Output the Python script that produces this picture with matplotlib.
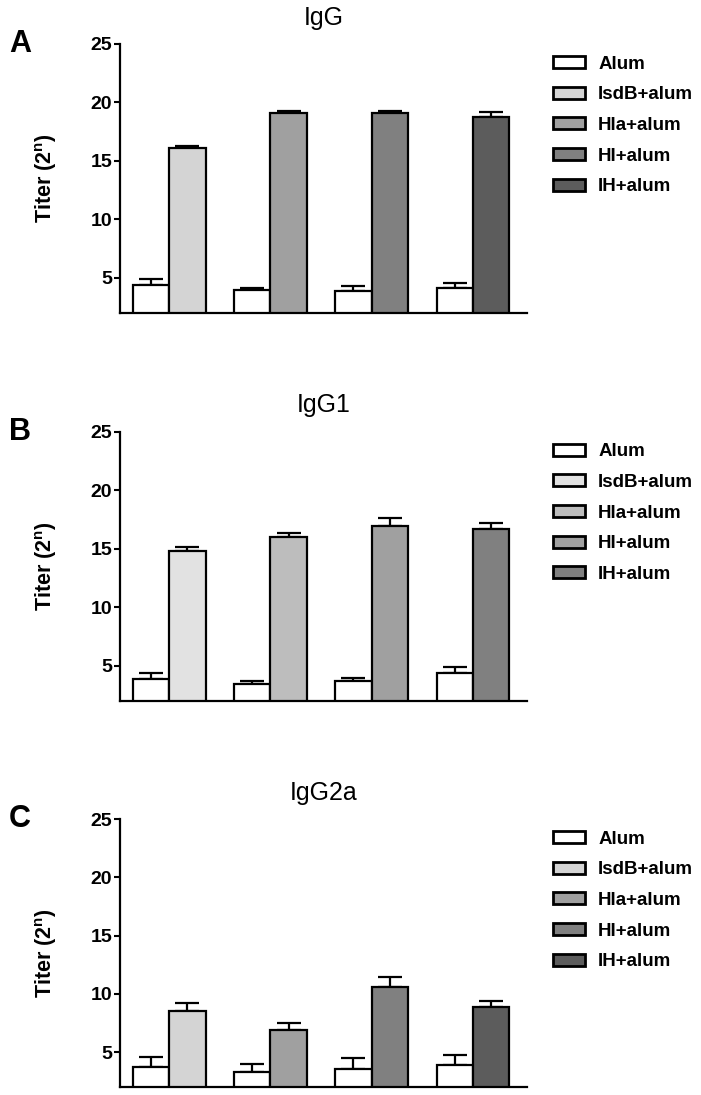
import matplotlib
matplotlib.use("Agg")
import matplotlib.pyplot as plt
from matplotlib.patches import Patch
import numpy as np

plt.rcParams['font.family'] = ['Liberation Sans', 'DejaVu Sans']

# group labels (legend) and panel info
legend_labels = ['Alum', 'IsdB+alum', 'Hla+alum', 'HI+alum', 'IH+alum']
titles = ['IgG', 'IgG1', 'IgG2a']
letters = ['A', 'B', 'C']

# Alum control bars (mean, upper SEM) for each of the 4 pairs
alum_igg = [4.4, 4.0, 3.85, 4.1]
alum_igg_err = [0.5, 0.15, 0.45, 0.5]
alum_igg1 = [3.85, 3.45, 3.65, 4.35]
alum_igg1_err = [0.55, 0.2, 0.25, 0.5]
alum_igg2a = [3.7, 3.3, 3.55, 3.9]
alum_igg2a_err = [0.9, 0.65, 0.9, 0.85]

# vaccine bars: IsdB, Hla, HI, IH
vac_igg = [16.1, 19.1, 19.1, 18.8]
vac_igg_err = [0.15, 0.15, 0.15, 0.4]
vac_igg1 = [14.8, 16.0, 16.95, 16.65]
vac_igg1_err = [0.35, 0.35, 0.7, 0.55]
vac_igg2a = [8.55, 6.85, 10.6, 8.9]
vac_igg2a_err = [0.7, 0.6, 0.8, 0.5]

colors_ac = ['white', '#d4d4d4', '#a0a0a0', '#808080', '#5c5c5c']
colors_b = ['white', '#e2e2e2', '#bdbdbd', '#a0a0a0', '#808080']

panels = [
    (alum_igg, alum_igg_err, vac_igg, vac_igg_err, colors_ac),
    (alum_igg1, alum_igg1_err, vac_igg1, vac_igg1_err, colors_b),
    (alum_igg2a, alum_igg2a_err, vac_igg2a, vac_igg2a_err, colors_ac),
]

W, H = 701, 1095
fig = plt.figure(figsize=(W / 100, H / 100), dpi=100)

# axes boxes in pixels: (top, bottom)
boxes = [(44, 313), (431.7, 700.7), (819, 1087)]
left_px, right_px = 120, 527

w = 0.36
x = np.arange(4)

for i, (a, ae, v, ve, cols) in enumerate(panels):
    top, bot = boxes[i]
    ax = fig.add_axes([left_px / W, 1 - bot / H, (right_px - left_px) / W, (bot - top) / H])

    ax.bar(x - w / 2, a, w, color=cols[0], edgecolor='black', linewidth=1.6, zorder=2)
    ax.bar(x + w / 2, v, w, color=cols[1:], edgecolor='black', linewidth=1.6, zorder=2)
    ax.errorbar(x - w / 2, a, yerr=[np.zeros(4), ae], fmt='none', ecolor='black',
                elinewidth=1.6, capsize=8.5, capthick=1.6, zorder=1)
    ax.errorbar(x + w / 2, v, yerr=[np.zeros(4), ve], fmt='none', ecolor='black',
                elinewidth=1.6, capsize=8.5, capthick=1.6, zorder=1)

    ax.set_xlim(-0.484, 3.533)
    ax.set_ylim(2, 25)
    ax.set_yticks([5, 10, 15, 20, 25])
    ax.set_xticks([])
    for s in ['top', 'right']:
        ax.spines[s].set_visible(False)
    for s in ['left', 'bottom']:
        ax.spines[s].set_linewidth(1.6)
    ax.tick_params(axis='y', direction='out', length=4, width=1.5, pad=1.5, labelsize=14)
    for lab in ax.get_yticklabels():
        lab.set_fontweight('bold')

    ax.set_ylabel(r'Titer (2$^{\mathregular{n}}$)', fontsize=15.5, fontweight='bold')
    ax.yaxis.set_label_coords(-0.15, 0.5)
    ax.set_title(titles[i], fontsize=18, pad=14)

    fig.text(20 / W, 1 - top / H, letters[i], fontsize=22, fontweight='bold',
             ha='center', va='center')

    handles = [Patch(facecolor=c, edgecolor='black', linewidth=2) for c in cols]
    ax.legend(handles, legend_labels, loc='upper left', bbox_to_anchor=(1.064, 0.957),
              frameon=False, borderpad=0, borderaxespad=0, handlelength=1.7,
              handleheight=0.6, handletextpad=0.7, labelspacing=0.73,
              prop={'size': 13.5, 'weight': 'bold'})

fig.savefig('out.png', dpi=100)
